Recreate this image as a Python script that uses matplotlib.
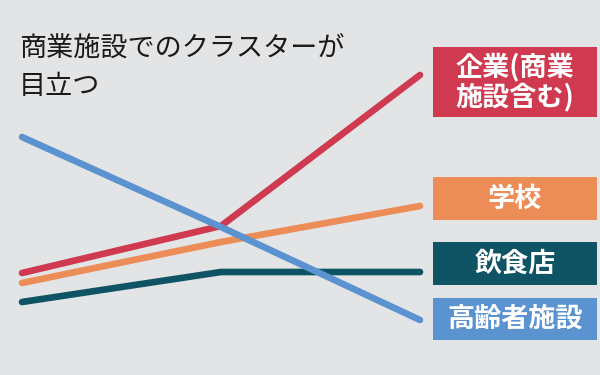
import matplotlib
matplotlib.use('Agg')
import matplotlib.pyplot as plt

plt.rcParams['font.family'] = ['Noto Sans CJK JP', 'DejaVu Sans']

# three time points (relative units)
xs = [0, 1, 2]
corp = [102, 149, 300]      # 企業(商業施設含む)
school = [92, 133, 169]     # 学校
food = [73, 103, 103]       # 飲食店
elderly = [238, 148, 55]    # 高齢者施設

labels = ['企業(商業\n施設含む)', '学校', '飲食店', '高齢者施設']
colors = ['#cf3a50', '#ec8c57', '#0f5464', '#5a93cf']
series = [corp, school, food, elderly]

bg = '#e3e4e6'
fig = plt.figure(figsize=(6, 3.75), dpi=100, facecolor=bg)
ax = fig.add_axes([22 / 600, 0.0, 398 / 600, 1.0])
ax.set_facecolor(bg)
ax.set_xlim(0, 2)
ax.set_ylim(0, 375)
ax.axis('off')

for ys, c in zip(series, colors):
    ax.plot(xs, ys, color=c, lw=4.8, solid_capstyle='round',
            solid_joinstyle='round', clip_on=False)

fig.text(19 / 600, 1 - 35 / 375, '商業施設でのクラスターが\n目立つ', fontsize=19.5,
         va='top', ha='left', color='#1a1a1a', linespacing=1.5)

# label boxes on the right (y_top, y_bottom in pixels)
boxes = [(47, 117), (177, 220), (242, 285), (298, 340)]
for (t, b), lab, c in zip(boxes, labels, colors):
    r = plt.Rectangle((433 / 600, 1 - b / 375), 164 / 600, (b - t) / 375,
                      transform=fig.transFigure, facecolor=c, edgecolor='none')
    fig.patches.append(r)
    fig.text(515 / 600, 1 - (t + b) / 2 / 375, lab, color='white',
             fontsize=19.5, fontweight='bold', ha='center', va='center',
             linespacing=1.05)

fig.savefig('out.png', dpi=100, facecolor=bg)
